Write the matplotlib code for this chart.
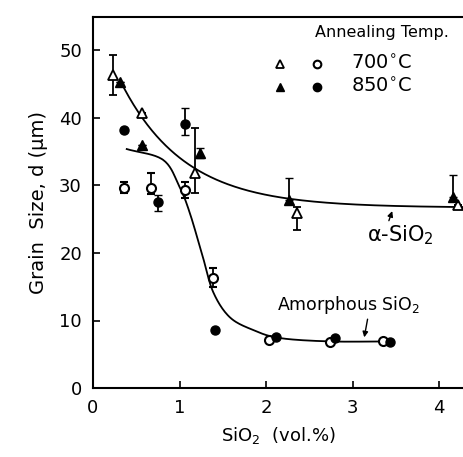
import numpy as np
import matplotlib
matplotlib.use("Agg")
import matplotlib.pyplot as plt

# ---- data ----
# 700 C, alpha-SiO2 (open triangles)
tri700_x = [0.23, 0.57, 1.18, 2.36, 4.22]
tri700_y = [46.4, 40.7, 31.8, 25.9, 27.1]
tri700_lo = [3.0, 0.0, 2.9, 2.5, 0.0]
tri700_hi = [3.0, 0.0, 6.7, 0.9, 0.0]
# 850 C, alpha-SiO2 (filled triangles)
tri850_x = [0.31, 0.57, 1.24, 2.27, 4.16]
tri850_y = [45.3, 36.0, 34.8, 27.8, 28.3]
tri850_lo = [0.0, 0.0, 0.8, 0.0, 0.0]
tri850_hi = [0.0, 0.0, 0.8, 3.3, 3.3]
# 700 C, amorphous SiO2 (open circles)
cir700_x = [0.36, 0.67, 1.06, 1.39, 2.04, 2.74, 3.35]
cir700_y = [29.7, 29.6, 29.3, 16.3, 7.1, 6.8, 7.0]
cir700_lo = [0.8, 0.8, 1.2, 1.3, 0.0, 0.0, 0.0]
cir700_hi = [0.8, 2.2, 1.2, 1.5, 0.0, 0.0, 0.0]
# 850 C, amorphous SiO2 (filled circles)
cir850_x = [0.36, 0.75, 1.06, 1.41, 2.12, 2.80, 3.43]
cir850_y = [38.2, 27.6, 39.1, 8.6, 7.6, 7.4, 6.8]
cir850_lo = [0.0, 1.4, 1.6, 0.0, 0.0, 0.0, 0.0]
cir850_hi = [0.0, 1.0, 2.4, 0.0, 0.0, 0.0, 0.0]

# hand-drawn fit curves
alpha_curve_x = [0.31, 0.57, 0.86, 1.18, 1.58, 2.28, 3.12, 4.28]
alpha_curve_y = [45.3, 40.7, 35.7, 32.0, 30.2, 27.9, 27.1, 27.0]
amor_curve_x = [0.39, 0.81, 1.00, 1.12, 1.27, 1.39, 1.58, 1.85, 2.16, 2.74, 3.43]
amor_curve_y = [35.4, 33.8, 29.8, 25.9, 19.4, 14.2, 10.5, 8.6, 7.4, 6.9, 6.9]

x_ticks = [0, 1, 2, 3, 4]
y_ticks = [0, 10, 20, 30, 40, 50]


def exp_fit(xs, ys):
    """least-squares fit of y = a + b*exp(-c*x) to the read curve points"""
    xs = np.asarray(xs, float)
    ys = np.asarray(ys, float)
    best = None
    for c in np.linspace(0.2, 5, 481):
        A = np.column_stack([np.ones_like(xs), np.exp(-c * xs)])
        coef, *_ = np.linalg.lstsq(A, ys, rcond=None)
        err = np.sum((A @ coef - ys) ** 2)
        if best is None or err < best[0]:
            best = (err, coef, c)
    _, (a, b), c = best
    xx = np.linspace(xs.min(), xs.max(), 300)
    return xx, a + b * np.exp(-c * xx)


def catmull_rom(xs, ys, n=20):
    p = np.column_stack([xs, ys]).astype(float)
    p = np.vstack([2 * p[0] - p[1], p, 2 * p[-1] - p[-2]])
    out = []
    t = np.linspace(0, 1, n, endpoint=False)[:, None]
    for i in range(1, len(p) - 2):
        p0, p1, p2, p3 = p[i - 1], p[i], p[i + 1], p[i + 2]
        seg = 0.5 * ((2 * p1) + (-p0 + p2) * t + (2 * p0 - 5 * p1 + 4 * p2 - p3) * t ** 2
                     + (-p0 + 3 * p1 - 3 * p2 + p3) * t ** 3)
        out.append(seg)
    out.append(p[-2][None, :])
    out = np.vstack(out)
    return out[:, 0], out[:, 1]


fig = plt.figure(figsize=(4.63, 4.57), dpi=100)
ax = fig.add_axes([93 / 463, 1 - 388 / 457, 1 - 93 / 463, (388 - 17) / 457])

ax.set_xticks(x_ticks)
ax.set_yticks(y_ticks)
ax.set_xlim(0, (463 - 93) / 86.5)
ax.set_ylim(0, 10 * (388 - 17) / 67.5)

cx, cy = exp_fit(alpha_curve_x, alpha_curve_y)
ax.plot(cx, cy, color="black", lw=1.3, zorder=2)
cx, cy = catmull_rom(amor_curve_x, amor_curve_y)
ax.plot(cx, cy, color="black", lw=1.3, zorder=2)

ekw = dict(ecolor="black", elinewidth=1.3, capsize=3, capthick=1.3, linestyle="none", zorder=3)
ax.errorbar(tri700_x, tri700_y, yerr=[tri700_lo, tri700_hi], marker="^", ms=7,
            mfc="white", mec="black", mew=1.3, **ekw)
ax.errorbar(tri850_x, tri850_y, yerr=[tri850_lo, tri850_hi], marker="^", ms=7,
            mfc="black", mec="black", mew=1.0, **ekw)
ax.errorbar(cir700_x, cir700_y, yerr=[cir700_lo, cir700_hi], marker="o", ms=6.5,
            mfc="white", mec="black", mew=1.5, **ekw)
ax.errorbar(cir850_x, cir850_y, yerr=[cir850_lo, cir850_hi], marker="o", ms=6.5,
            mfc="black", mec="black", mew=1.0, **ekw)

# legend drawn as text + markers
ax.text(3.34, 52.6, "Annealing Temp.", fontsize=11.5, ha="center", va="center")
ax.plot([2.16], [48.0], marker="^", ms=6, mfc="white", mec="black", mew=1.3, ls="none", clip_on=False)
ax.plot([2.59], [48.0], marker="o", ms=5.5, mfc="white", mec="black", mew=1.5, ls="none", clip_on=False)
ax.plot([2.16], [44.6], marker="^", ms=6, mfc="black", mec="black", ls="none", clip_on=False)
ax.plot([2.59], [44.6], marker="o", ms=6, mfc="black", mec="black", ls="none", clip_on=False)
ax.text(2.98, 48.0, "700$^{\\circ}$C", fontsize=14, ha="left", va="center")
ax.text(2.98, 44.6, "850$^{\\circ}$C", fontsize=14, ha="left", va="center")

# curve labels
ax.text(3.55, 22.6, "α-SiO$_2$", fontsize=15, ha="center", va="center")
ax.annotate("", xy=(3.47, 26.6), xytext=(3.41, 24.4),
            arrowprops=dict(arrowstyle="-|>", color="black", lw=1.0, mutation_scale=8))
ax.text(2.95, 12.3, "Amorphous SiO$_2$", fontsize=12.5, ha="center", va="center")
ax.annotate("", xy=(3.13, 7.1), xytext=(3.18, 10.6),
            arrowprops=dict(arrowstyle="-|>", color="black", lw=1.0, mutation_scale=8))

ax.tick_params(direction="in", length=5, width=1.2, labelsize=13, pad=8)
ax.spines["right"].set_visible(False)
for s in ["left", "bottom", "top"]:
    ax.spines[s].set_linewidth(1.5)

ax.set_xlabel("SiO$_2$  (vol.%)", fontsize=13, labelpad=6)
ax.set_ylabel("Grain  Size, d (μm)", fontsize=14, labelpad=8)

fig.savefig("out.png", dpi=100)
